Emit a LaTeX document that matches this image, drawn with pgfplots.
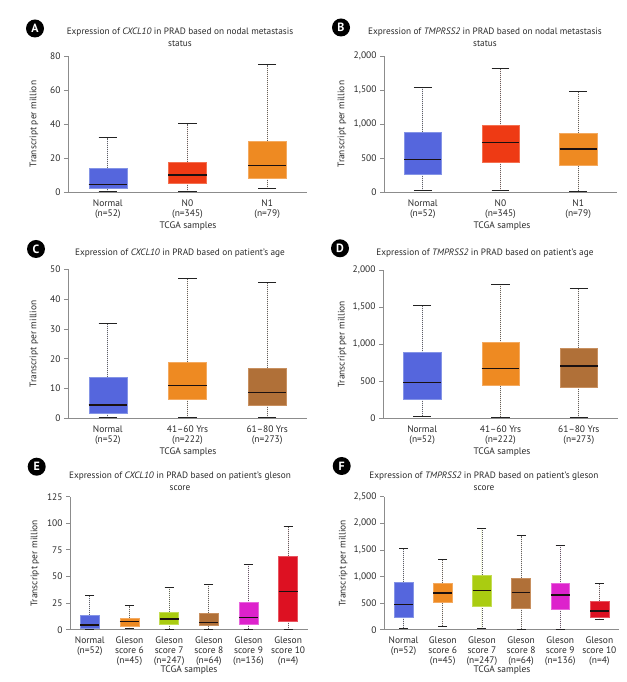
\documentclass[border=0pt]{standalone}
\usepackage{fontspec}
\setmainfont{PT Sans}
\setsansfont{PT Sans}
\usepackage{pgfplots}
\pgfplotsset{compat=1.18}
\usepgfplotslibrary{statistics}
\definecolor{txt}{HTML}{2A2A2A}
\definecolor{axg}{HTML}{8C8C8C}
\definecolor{whg}{HTML}{606060}
\definecolor{capc}{HTML}{222222}
\definecolor{medc}{HTML}{1A1010}
\definecolor{cblue}{HTML}{5566DD}
\definecolor{cblueL}{HTML}{8494E6}
\definecolor{cred}{HTML}{EE3A14}
\definecolor{credL}{HTML}{F47050}
\definecolor{corange}{HTML}{EE8A22}
\definecolor{corangeL}{HTML}{F4AA60}
\definecolor{cbrown}{HTML}{B07038}
\definecolor{cbrownL}{HTML}{C89060}
\definecolor{cgreen}{HTML}{AACC11}
\definecolor{cgreenL}{HTML}{C4DD55}
\definecolor{cmag}{HTML}{DD22CC}
\definecolor{cmagL}{HTML}{E866DD}
\definecolor{cdred}{HTML}{DD1122}
\definecolor{cdredL}{HTML}{E85560}
\pgfplotsset{
  panel/.style={
    scale only axis,
    anchor=south west,
    axis x line*=bottom,
    axis y line*=left,
    axis line style={draw=axg, line width=0.8bp, -},
    enlargelimits=false,
    ymin=0,
    tick align=outside,
    major tick length=4bp,
    ytick style={draw=axg, line width=0.8bp},
    xtick style={draw=none},
    tick label style={font=\fontsize{9.5}{10}\selectfont, text=txt},
    xticklabel style={align=center},
    /pgf/number format/1000 sep={,},
    /pgf/number format/assume math mode=true,
    ylabel={Transcript per million},
    label style={font=\fontsize{9.5}{10}\selectfont, text=txt},
    boxplot/draw direction=y,
    boxplot/box extend=0.48,
    boxplot/whisker extend=0.23,
    boxplot/every median/.style={draw=medc, line width=1.3bp},
    boxplot/draw/lower whisker/.code={%
      \draw[draw=whg, line width=0.8bp, dash pattern=on 1bp off 1bp]
        (boxplot box cs:\pgfplotsboxplotvalue{lower quartile},0.5) --
        (boxplot box cs:\pgfplotsboxplotvalue{lower whisker},0.5);
      \draw[draw=capc, line width=1bp]
        (boxplot whisker cs:\pgfplotsboxplotvalue{lower whisker},0) --
        (boxplot whisker cs:\pgfplotsboxplotvalue{lower whisker},1);
    },
    boxplot/draw/upper whisker/.code={%
      \draw[draw=whg, line width=0.8bp, dash pattern=on 1bp off 1bp]
        (boxplot box cs:\pgfplotsboxplotvalue{upper quartile},0.5) --
        (boxplot box cs:\pgfplotsboxplotvalue{upper whisker},0.5);
      \draw[draw=capc, line width=1bp]
        (boxplot whisker cs:\pgfplotsboxplotvalue{upper whisker},0) --
        (boxplot whisker cs:\pgfplotsboxplotvalue{upper whisker},1);
    },
  },
  three/.style={panel, xmin=-0.5, xmax=2.5, xtick={0,1,2}},
  six/.style={panel, xmin=-0.5, xmax=5.5, xtick={0,1,2,3,4,5}},
}
\tikzset{
  ttl/.style={align=center, font=\fontsize{9.3}{12}\selectfont, text=txt},
  xl/.style={font=\fontsize{9.5}{10}\selectfont, text=txt},
  badge/.style={circle, fill=black, text=white, inner sep=0pt, minimum size=18bp, font=\fontsize{12}{12}\selectfont\bfseries},
}
\begin{document}
\begin{tikzpicture}
\useasboundingbox (0,0) rectangle (627bp,682bp);

% ---------- A ----------
\node[badge] at (35bp,653.5bp) {A};
\node[ttl] at (180bp,645bp) {Expression of \textit{CXCL10} in PRAD based on nodal metastasis\\status};
\node[xl] at (188bp,456bp) {TCGA samples};
\begin{axis}[three, at={(68bp,490bp)}, width=239bp, height=136bp, ymax=80, ytick={0,20,40,60,80},
  xticklabels={{Normal\\(n=52)},{N0\\(n=345)},{N1\\(n=79)}},
  ylabel style={at={(axis description cs:-0.142,0.5)}, anchor=center}]
\addplot[boxplot prepared={draw position=0, lower whisker=0.5, lower quartile=2, median=4.6, upper quartile=14, upper whisker=32}, fill=cblue, draw=cblueL] coordinates {};
\addplot[boxplot prepared={draw position=1, lower whisker=0.3, lower quartile=5, median=10, upper quartile=17.5, upper whisker=40}, fill=cred, draw=credL] coordinates {};
\addplot[boxplot prepared={draw position=2, lower whisker=2, lower quartile=8, median=15.5, upper quartile=30, upper whisker=75}, fill=corange, draw=corangeL] coordinates {};
\end{axis}

% ---------- B ----------
\node[badge] at (341bp,654.5bp) {B};
\node[ttl] at (485bp,645bp) {Expression of \textit{TMPRSS2} in PRAD based on nodal metastasis\\status};
\node[xl] at (502bp,456bp) {TCGA samples};
\begin{axis}[three, at={(384bp,490bp)}, width=233bp, height=136bp, ymax=2000, ytick={0,500,1000,1500,2000},
  xticklabels={{Normal\\(n=52)},{N0\\(n=345)},{N1\\(n=79)}},
  ylabel style={at={(axis description cs:-0.18,0.5)}, anchor=center}]
\addplot[boxplot prepared={draw position=0, lower whisker=25, lower quartile=265, median=480, upper quartile=877, upper whisker=1539}, fill=cblue, draw=cblueL] coordinates {};
\addplot[boxplot prepared={draw position=1, lower whisker=25, lower quartile=441, median=730, upper quartile=975, upper whisker=1809}, fill=cred, draw=credL] coordinates {};
\addplot[boxplot prepared={draw position=2, lower whisker=5, lower quartile=387, median=632, upper quartile=868, upper whisker=1485}, fill=corange, draw=corangeL] coordinates {};
\end{axis}

% ---------- C ----------
\node[badge] at (36bp,433bp) {C};
\node[ttl] at (180bp,429.3bp) {Expression of \textit{CXCL10} in PRAD based on patient's age};
\node[xl] at (188bp,230bp) {TCGA samples};
\begin{axis}[three, at={(68bp,263.7bp)}, width=239bp, height=149bp, ymax=50, ytick={0,10,20,30,40,50},
  xticklabels={{Normal\\(n=52)},{41–60 Yrs\\(n=222)},{61–80 Yrs\\(n=273)}},
  ylabel style={at={(axis description cs:-0.142,0.5)}, anchor=center}]
\addplot[boxplot prepared={draw position=0, lower whisker=0.2, lower quartile=1.7, median=4.5, upper quartile=13.8, upper whisker=31.7}, fill=cblue, draw=cblueL] coordinates {};
\addplot[boxplot prepared={draw position=1, lower whisker=0.2, lower quartile=6.5, median=11.0, upper quartile=18.9, upper whisker=46.9}, fill=corange, draw=corangeL] coordinates {};
\addplot[boxplot prepared={draw position=2, lower whisker=0.2, lower quartile=4.4, median=8.6, upper quartile=16.8, upper whisker=45.6}, fill=cbrown, draw=cbrownL] coordinates {};
\end{axis}

% ---------- D ----------
\node[badge] at (340bp,433.7bp) {D};
\node[ttl] at (485bp,429.3bp) {Expression of \textit{TMPRSS2} in PRAD based on patient's age};
\node[xl] at (502bp,230bp) {TCGA samples};
\begin{axis}[three, at={(383bp,263.7bp)}, width=235bp, height=148.3bp, ymax=2000, ytick={0,500,1000,1500,2000},
  xticklabels={{Normal\\(n=52)},{41–60 Yrs\\(n=222)},{61–80 Yrs\\(n=273)}},
  ylabel style={at={(axis description cs:-0.174,0.5)}, anchor=center}]
\addplot[boxplot prepared={draw position=0, lower whisker=22, lower quartile=256, median=485, upper quartile=885, upper whisker=1524}, fill=cblue, draw=cblueL] coordinates {};
\addplot[boxplot prepared={draw position=1, lower whisker=9, lower quartile=440, median=670, upper quartile=1020, upper whisker=1811}, fill=corange, draw=corangeL] coordinates {};
\addplot[boxplot prepared={draw position=2, lower whisker=9, lower quartile=422, median=706, upper quartile=948, upper whisker=1757}, fill=cbrown, draw=cbrownL] coordinates {};
\end{axis}

% ---------- E ----------
\node[badge] at (36.7bp,215.3bp) {E};
\node[ttl] at (180bp,200.7bp) {Expression of \textit{CXCL10} in PRAD based on patient's gleson\\score};
\node[xl] at (189bp,12bp) {TCGA samples};
\begin{axis}[six, at={(70bp,52.3bp)}, width=238bp, height=133bp, ymax=125, ytick={0,25,50,75,100,125},
  xticklabels={{Normal\\(n=52)},{Gleson\\score 6\\(n=45)},{Gleson\\score 7\\(n=247)},{Gleson\\score 8\\(n=64)},{Gleson\\score 9\\(n=136)},{Gleson\\score 10\\(n=4)}},
  ylabel style={at={(axis description cs:-0.147,0.5)}, anchor=center}]
\addplot[boxplot prepared={draw position=0, lower whisker=0.3, lower quartile=1, median=4.4, upper quartile=13.8, upper whisker=32}, fill=cblue, draw=cblueL] coordinates {};
\addplot[boxplot prepared={draw position=1, lower whisker=1.3, lower quartile=3.1, median=7.5, upper quartile=10.7, upper whisker=22.6}, fill=corange, draw=corangeL] coordinates {};
\addplot[boxplot prepared={draw position=2, lower whisker=0.3, lower quartile=5, median=10, upper quartile=16.9, upper whisker=40}, fill=cgreen, draw=cgreenL] coordinates {};
\addplot[boxplot prepared={draw position=3, lower whisker=0.3, lower quartile=3.8, median=6.9, upper quartile=15.7, upper whisker=42.6}, fill=cbrown, draw=cbrownL] coordinates {};
\addplot[boxplot prepared={draw position=4, lower whisker=0.3, lower quartile=5.6, median=11.6, upper quartile=25.4, upper whisker=61.4}, fill=cmag, draw=cmagL] coordinates {};
\addplot[boxplot prepared={draw position=5, lower whisker=0.3, lower quartile=8.1, median=35.7, upper quartile=68.9, upper whisker=97.1}, fill=cdred, draw=cdredL] coordinates {};
\end{axis}

% ---------- F ----------
\node[badge] at (341.7bp,216bp) {F};
\node[ttl] at (484bp,200.7bp) {Expression of \textit{TMPRSS2} in PRAD based on patient's gleson\\score};
\node[xl] at (502bp,12bp) {TCGA samples};
\begin{axis}[six, at={(384bp,52.3bp)}, width=235bp, height=133bp, ymax=2500, ytick={0,500,1000,1500,2000,2500},
  xticklabels={{Normal\\(n=52)},{Gleson\\score 6\\(n=45)},{Gleson\\score 7\\(n=247)},{Gleson\\score 8\\(n=64)},{Gleson\\score 9\\(n=136)},{Gleson\\score 10\\(n=4)}},
  ylabel style={at={(axis description cs:-0.174,0.5)}, anchor=center}]
\addplot[boxplot prepared={draw position=0, lower whisker=25, lower quartile=244, median=476, upper quartile=896, upper whisker=1523}, fill=cblue, draw=cblueL] coordinates {};
\addplot[boxplot prepared={draw position=1, lower whisker=63, lower quartile=508, median=689, upper quartile=877, upper whisker=1328}, fill=corange, draw=corangeL] coordinates {};
\addplot[boxplot prepared={draw position=2, lower whisker=25, lower quartile=439, median=739, upper quartile=1028, upper whisker=1911}, fill=cgreen, draw=cgreenL] coordinates {};
\addplot[boxplot prepared={draw position=3, lower whisker=13, lower quartile=407, median=702, upper quartile=977, upper whisker=1767}, fill=cbrown, draw=cbrownL] coordinates {};
\addplot[boxplot prepared={draw position=4, lower whisker=13, lower quartile=388, median=652, upper quartile=865, upper whisker=1591}, fill=cmag, draw=cmagL] coordinates {};
\addplot[boxplot prepared={draw position=5, lower whisker=200, lower quartile=238, median=351, upper quartile=539, upper whisker=871}, fill=cdred, draw=cdredL] coordinates {};
\end{axis}
\end{tikzpicture}
\end{document}
